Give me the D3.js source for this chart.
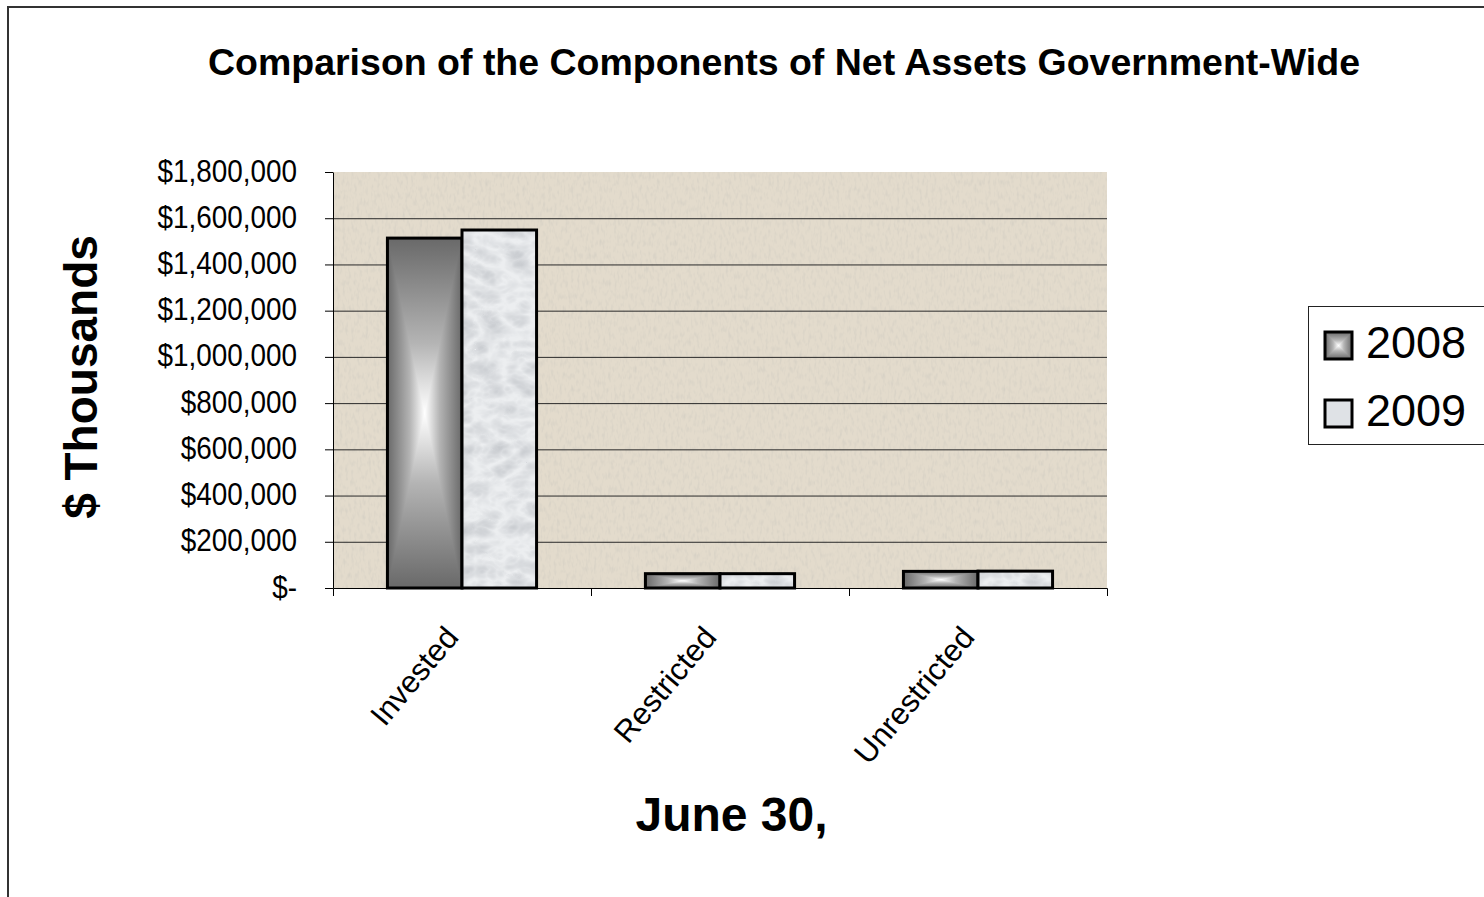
<!DOCTYPE html>
<html>
<head>
<meta charset="utf-8">
<script src="https://cdn.jsdelivr.net/npm/d3@7"></script>
<style>
  body { margin: 0; background: #fff; }
  svg { display: block; }
  text { font-family: "Liberation Sans", Arial, sans-serif; fill: #000; }
</style>
</head>
<body>
<svg id="chart"></svg>
<script>
// data ($ thousands)
const categories = ["Invested", "Restricted", "Unrestricted"];
const years = ["2008", "2009"];
const values2008 = [1514000, 62000, 72000];
const values2009 = [1549000, 62000, 73000];
const yTicks = [0, 200000, 400000, 600000, 800000, 1000000, 1200000, 1400000, 1600000, 1800000];

const W = 1484, H = 897;
const plot = { left: 333, right: 1107, top: 172, bottom: 588 };

const svg = d3.select("#chart").attr("width", W).attr("height", H);
const defs = svg.append("defs");

// gray "from center" gradient pieces for 2008
function grad(id, vertical) {
  const g = defs.append("linearGradient").attr("id", id)
    .attr("x1", 0).attr("y1", 0)
    .attr("x2", vertical ? 0 : 1).attr("y2", vertical ? 1 : 0);
  g.append("stop").attr("offset", 0).attr("stop-color", "#696969");
  g.append("stop").attr("offset", 0.3).attr("stop-color", "#b4b4b4");
  g.append("stop").attr("offset", 0.5).attr("stop-color", "#ffffff");
  g.append("stop").attr("offset", 0.7).attr("stop-color", "#b4b4b4");
  g.append("stop").attr("offset", 1).attr("stop-color", "#696969");
}
grad("hGrad", false);
grad("vGrad", true);

// marble texture for 2009
const mf = defs.append("filter").attr("id", "marbleNoise")
  .attr("x", 0).attr("y", 0).attr("width", 1).attr("height", 1);
mf.append("feTurbulence").attr("type", "turbulence")
  .attr("baseFrequency", "0.035 0.05").attr("numOctaves", 3).attr("seed", 11);
mf.append("feColorMatrix").attr("type", "matrix")
  .attr("values", "0 0 0 0 0.55  0 0 0 0 0.57  0 0 0 0 0.6  1.3 0 0 0 -0.12");
const marble = defs.append("pattern").attr("id", "marble")
  .attr("patternUnits", "userSpaceOnUse").attr("width", 900).attr("height", 700);
marble.append("rect").attr("width", 900).attr("height", 700).attr("fill", "#eceef0");
marble.append("rect").attr("width", 900).attr("height", 700).attr("fill", "#fff")
  .attr("filter", "url(#marbleNoise)");

// beige paper texture for the plot area
const pf = defs.append("filter").attr("id", "paperNoise")
  .attr("x", 0).attr("y", 0).attr("width", 1).attr("height", 1);
pf.append("feTurbulence").attr("type", "fractalNoise")
  .attr("baseFrequency", "0.35 0.15").attr("numOctaves", 2).attr("seed", 3);
pf.append("feColorMatrix").attr("type", "matrix")
  .attr("values", "0 0 0 0 0.68  0 0 0 0 0.64  0 0 0 0 0.56  2.2 0 0 0 -1.0");

// outer chart frame (only left and top edges show)
svg.append("path")
  .attr("d", `M8,${H}V7H${W}`)
  .attr("fill", "none").attr("stroke", "#333").attr("stroke-width", 2);

// title
svg.append("text")
  .attr("x", 784).attr("y", 75)
  .attr("text-anchor", "middle")
  .attr("font-size", 36).attr("font-weight", "bold")
  .attr("textLength", 1152).attr("lengthAdjust", "spacingAndGlyphs")
  .text("Comparison of the Components of Net Assets Government-Wide");

// scales
const x0 = d3.scaleBand().domain(categories).range([plot.left, plot.right]).padding(0);
const x1 = d3.scaleBand().domain(years).range([0, x0.bandwidth()]).paddingInner(0).paddingOuter(0.73);
const y = d3.scaleLinear().domain([0, 1800000]).range([plot.bottom, plot.top]);

// plot background
svg.append("rect")
  .attr("x", plot.left).attr("y", plot.top)
  .attr("width", plot.right - plot.left).attr("height", plot.bottom - plot.top)
  .attr("fill", "#e3dbcc");
svg.append("rect")
  .attr("x", plot.left).attr("y", plot.top)
  .attr("width", plot.right - plot.left).attr("height", plot.bottom - plot.top)
  .attr("fill", "#fff")
  .attr("filter", "url(#paperNoise)");

// gridlines
svg.append("g")
  .selectAll("line")
  .data(yTicks.filter((t) => t > 0 && t < 1800000))
  .enter()
  .append("line")
  .attr("x1", plot.left).attr("x2", plot.right)
  .attr("y1", (d) => y(d) + 0.5).attr("y2", (d) => y(d) + 0.5)
  .attr("stroke", "#2a2a2a").attr("stroke-width", 1);

// bars
const rows = categories.map((c, i) => ({ cat: c, vals: [values2008[i], values2009[i]] }));
const groups = svg.append("g").selectAll("g")
  .data(rows).enter().append("g")
  .attr("transform", (d) => `translate(${x0(d.cat)},0)`);

groups.each(function (d) {
  const g = d3.select(this);
  years.forEach((yr, k) => {
    const bx = x1(yr), bw = x1.bandwidth();
    const by = y(d.vals[k]), bh = plot.bottom - by;
    if (k === 0) {
      const iso = g.append("g").style("isolation", "isolate");
      iso.append("rect").attr("x", bx).attr("y", by).attr("width", bw).attr("height", bh)
        .attr("fill", "url(#hGrad)");
      iso.append("rect").attr("x", bx).attr("y", by).attr("width", bw).attr("height", bh)
        .attr("fill", "url(#vGrad)").style("mix-blend-mode", "darken");
    } else {
      g.append("rect").attr("x", bx).attr("y", by).attr("width", bw).attr("height", bh)
        .attr("fill", "url(#marble)");
    }
    g.append("rect").attr("x", bx).attr("y", by).attr("width", bw).attr("height", bh)
      .attr("fill", "none").attr("stroke", "#000").attr("stroke-width", 3);
  });
});

// y axis
const fmt = (v) => (v === 0 ? "$-" : "$" + d3.format(",")(v));
const yAxis = svg.append("g")
  .attr("transform", `translate(${plot.left},0)`)
  .call(d3.axisLeft(y).tickValues(yTicks).tickSize(8).tickSizeOuter(0).tickFormat(fmt));
yAxis.selectAll("path, line").attr("stroke", "#000");
yAxis.selectAll("text")
  .attr("font-size", 31)
  .attr("font-family", '"Liberation Sans", Arial, sans-serif')
  .attr("fill", "#000")
  .attr("x", -36 / 0.9)
  .attr("dy", null)
  .attr("y", 9)
  .attr("transform", "scale(0.9,1)");

// x axis
const xAxis = svg.append("g")
  .attr("transform", `translate(0,${plot.bottom})`)
  .call(d3.axisBottom(x0).tickSize(0).tickSizeOuter(8).tickFormat(""));
xAxis.selectAll("path").attr("stroke", "#000");
xAxis.selectAll(".boundary")
  .data(categories.slice(1))
  .enter()
  .append("line")
  .attr("class", "boundary")
  .attr("x1", (d) => x0(d) + 0.5).attr("x2", (d) => x0(d) + 0.5)
  .attr("y1", 0).attr("y2", 8)
  .attr("stroke", "#000");

// rotated category labels
svg.append("g").selectAll("text")
  .data(categories).enter()
  .append("text")
  .attr("transform", (d) => `translate(${x0(d) + x0.bandwidth() / 2 - 2},638) rotate(-50)`)
  .attr("text-anchor", "end")
  .attr("font-size", 31)
  .text((d) => d);

// axis titles
svg.append("text")
  .attr("transform", "translate(97,377) rotate(-90)")
  .attr("text-anchor", "middle")
  .attr("font-size", 46).attr("font-weight", "bold")
  .text("$ Thousands");

svg.append("text")
  .attr("x", 731.5).attr("y", 831)
  .attr("text-anchor", "middle")
  .attr("font-size", 48).attr("font-weight", "bold")
  .text("June 30,");

// legend
const legend = svg.append("g");
legend.append("rect")
  .attr("x", 1308.5).attr("y", 306.5).attr("width", 200).attr("height", 138)
  .attr("fill", "#fff").attr("stroke", "#222").attr("stroke-width", 1);
years.forEach((yr, i) => {
  const ly = 332 + i * 68;
  if (i === 0) {
    const iso = legend.append("g").style("isolation", "isolate");
    iso.append("rect").attr("x", 1325).attr("y", ly).attr("width", 27).attr("height", 27)
      .attr("fill", "url(#hGrad)");
    iso.append("rect").attr("x", 1325).attr("y", ly).attr("width", 27).attr("height", 27)
      .attr("fill", "url(#vGrad)").style("mix-blend-mode", "darken");
  } else {
    legend.append("rect").attr("x", 1325).attr("y", ly).attr("width", 27).attr("height", 27)
      .attr("fill", "#dfe2e6");
  }
  legend.append("rect").attr("x", 1325).attr("y", ly).attr("width", 27).attr("height", 27)
    .attr("fill", "none").attr("stroke", "#000").attr("stroke-width", 3);
  legend.append("text")
    .attr("x", 1366).attr("y", ly + 26)
    .attr("font-size", 45)
    .text(yr);
});
</script>
</body>
</html>
